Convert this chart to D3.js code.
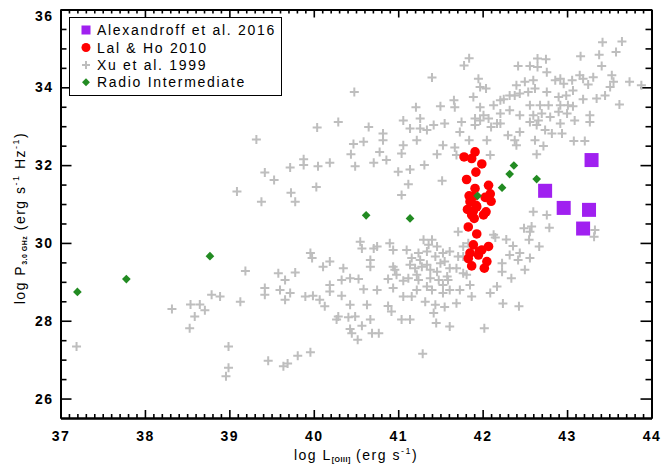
<!DOCTYPE html>
<html>
<head>
<meta charset="utf-8">
<script src="https://cdn.jsdelivr.net/npm/d3@7"></script>
<style>
body { margin: 0; background: #fff; }
svg { display: block; font-family: "Liberation Sans", Arial, sans-serif; }
.tick text { font-size: 14px; font-weight: bold; letter-spacing: 1.5px; fill: #000; }
.legend-text { font-size: 14px; letter-spacing: 1.7px; }
.title { font-size: 14px; letter-spacing: 1.5px; }
</style>
</head>
<body>
<svg id="chart" width="661" height="466"></svg>
<script>
// log L[OIII], log P3.0GHz
var alexandroff = [[43.29,32.13],[42.74,31.34],[42.96,30.90],[43.26,30.85],[43.19,30.37]]

var lalHo = [[41.78,32.21],[41.91,32.34],[41.87,32.17],[41.99,32.03],[41.92,31.82],[41.81,31.63],
    [42.07,31.48],[41.91,31.40],[41.84,31.21],[42.09,31.26],[42.03,31.17],[42.10,31.07],[41.85,31.06],
    [41.92,30.97],[41.82,30.86],[41.89,30.82],[42.04,30.80],[42.01,30.72],[41.90,30.63],[41.83,30.41],
    [41.93,30.23],[41.89,29.95],[42.07,29.91],[41.99,29.82],[41.85,29.74],[41.95,29.69],[41.83,29.60],
    [42.05,29.52],[41.87,29.41],[42.02,29.35],[41.89,31.19],[41.87,30.72],[41.93,30.93],[41.96,29.78]]

var radioInt = [[37.20,28.74],[37.78,29.07],[38.77,29.66],[40.62,30.71],[41.14,30.63],[41.94,31.21],
    [42.23,31.42],[42.32,31.77],[42.37,31.99],[42.64,31.64]]

var xu1999 = [
    [37.19,27.34],[38.32,28.30],[38.54,28.42],[38.65,28.42],[38.71,28.27],[38.59,28.11],[38.53,27.81],
    [38.79,28.67],[38.89,28.62],[38.99,27.34],[38.99,26.79],[38.96,26.57],[39.46,26.97],[39.64,26.83],
    [39.69,26.90],[39.81,27.10],[39.96,27.19],
    [40.43,28.41],[40.63,28.41],[40.88,28.38],[40.92,28.24],[40.29,28.11],[40.27,28.03],[40.41,28.09],
    [40.49,28.11],[40.57,27.87],[40.67,28.03],[40.43,27.79],[40.45,27.68],[40.52,27.51],[40.69,27.68],
    [40.77,27.68],[41.04,28.03],[41.14,28.03],[41.32,28.49],[41.44,28.41],[41.55,28.35],[41.69,28.45],
    [41.42,28.20],[41.45,27.94],[41.61,27.85],[42.02,27.81],[42.24,28.44],[42.43,28.37],[41.29,27.15],
    [39.09,31.32],[39.38,31.06],[39.73,31.29],[39.78,31.06],[41.04,31.23],
    [40.55,30.03],[40.57,29.86],[40.71,29.86],[40.75,29.91],[40.90,29.99],[40.94,29.82],[41.10,29.82],
    [41.30,30.08],[41.40,30.08],[41.36,29.95],[41.46,29.91],[41.34,29.78],[41.24,29.74],[41.53,29.74],
    [41.61,29.78],[41.71,30.29],[41.77,29.91],[41.83,29.99],[39.96,29.74],[39.98,29.61],[40.11,29.39],
    [40.19,29.52],[40.35,29.35],[40.67,29.56],[40.67,29.39],[40.94,29.39],[40.96,29.31],[41.14,29.44],
    [41.20,29.35],[41.28,29.39],[41.34,29.44],[41.38,29.31],[41.50,29.48],[41.55,29.52],[41.61,29.35],
    [41.69,29.35],[41.46,29.26],[41.58,29.14],[41.77,29.22],[39.19,29.28],[39.58,29.22],[39.66,29.05],
    [39.78,29.24],[40.33,29.05],[40.43,29.09],[40.53,29.07],[40.19,28.92],[40.88,29.07],[41.06,29.03],
    [41.12,29.09],[41.22,29.18],[41.34,28.88],[41.40,28.79],[41.53,28.92],[41.61,28.79],[41.73,28.79],
    [41.85,28.92],[41.87,28.62],[40.94,28.84],[40.75,28.79],[40.59,28.81],[40.33,28.64],[40.19,28.75],
    [40.07,28.54],[40.13,28.37],[39.90,28.62],[39.99,28.64],[39.72,28.71],[39.66,28.54],[39.60,28.79],
    [39.42,28.84],[39.42,28.67],[39.13,28.49],[40.98,29.18],[41.06,28.62],[41.16,28.62],[41.22,28.79],
    [41.53,28.71],[41.81,29.18],[41.38,29.09],[41.48,29.05],[41.59,29.05],[41.24,29.05],[41.71,29.65],
    [41.77,29.65],[41.44,29.65],[41.16,29.61],[41.26,29.56],
    [39.42,31.81],[39.32,32.66],[40.04,32.97],[39.88,32.15],[39.88,32.00],[40.05,31.97],[40.19,32.06],
    [39.72,31.94],[39.53,31.62],[40.03,31.44],[41.26,32.94],
    [40.47,32.54],[40.59,32.60],[40.44,32.28],[40.78,32.34],[40.71,32.06],[40.86,32.13],[40.49,31.97],
    [41.04,32.30],[41.06,32.51],[41.22,32.64],[41.00,31.83],[41.14,31.89],[41.31,32.00],[41.46,32.28],
    [41.53,32.51],[41.67,32.45],[41.69,32.26],[41.12,31.51],[41.52,31.60],[42.09,32.26],
    [42.64,32.28],[42.72,32.49],[42.40,32.51],
    [42.60,30.80],[42.76,30.72],[42.49,30.38],[42.58,30.42],[42.56,30.29],[42.79,30.39],[42.13,30.21],
    [42.15,30.14],[42.28,30.09],[42.36,29.92],[42.44,29.74],[42.55,30.08],[42.67,29.91],[42.56,29.61],
    [42.32,29.69],[42.42,29.56],[42.23,29.48],[42.50,29.31],[42.34,29.09],[42.23,29.26],[43.33,30.33],
    [43.32,30.16],[42.17,28.88],[42.09,28.71],
    [43.42,35.16],[43.65,35.18],[43.58,34.91],[43.38,34.84],[43.16,34.80],[43.41,34.55],[41.84,34.75],
    [41.78,34.56],[41.40,34.25],[42.42,34.55],[42.56,34.55],[42.65,34.74],[42.75,34.72],[42.65,34.52],
    [42.76,34.39],[41.95,34.22],[41.97,34.01],[42.04,33.97],[41.89,33.75],[41.66,33.67],[41.67,33.49],
    [41.50,33.51],[41.97,33.49],[42.01,33.28],[41.97,33.15],[42.07,33.20],[42.13,33.54],[42.21,33.67],
    [42.25,33.69],[42.32,33.79],[42.38,33.79],[42.44,33.84],[42.40,34.05],[42.50,34.14],[42.60,34.18],
    [42.62,33.97],[42.54,33.88],[42.76,33.88],[42.86,34.18],[42.92,34.22],[42.96,34.09],[43.06,34.18],
    [43.15,34.31],[43.19,34.22],[43.31,34.26],[43.25,34.07],[43.53,34.31],[43.55,34.14],[43.51,34.01],
    [43.74,34.14],[43.88,34.05],[43.45,33.79],[43.35,33.71],[43.62,33.56],[43.19,33.69],[43.07,33.92],
    [42.99,33.79],[42.90,33.75],[42.78,33.54],[42.68,33.54],[42.56,33.54],[42.70,33.33],[42.60,33.28],
    [42.66,33.15],[42.80,33.24],[42.90,33.37],[42.92,33.54],[43.01,33.54],[43.07,33.51],[43.00,33.33],
    [43.09,33.15],[43.27,33.28],[43.27,33.11],[42.92,33.07],[42.94,32.81],[42.82,32.81],[42.74,32.90],
    [42.64,33.03],[42.56,33.11],[42.44,33.28],[42.44,32.85],[42.32,33.41],[42.21,33.33],[42.21,33.07],
    [42.10,32.98],[42.05,32.64],[42.30,32.77],[42.38,32.64],[42.62,32.64],[43.08,32.62],[43.21,32.62],
    [41.75,33.11],[41.73,32.85],[41.84,32.64],[41.42,33.03],[41.55,33.07],[41.91,33.03],[41.91,33.20],
    [42.17,33.07],
    [40.29,33.11],[40.48,33.88],[40.65,32.98],[40.82,32.81],[40.82,32.64],[41.06,33.15],[41.14,32.94],
    [41.21,33.49],[41.26,33.20],[41.34,32.90]]

var xMajor = [37, 38, 39, 40, 41, 42, 43, 44]
var yMajor = [26, 28, 30, 32, 34, 36]
var legendNames = ['Alexandroff et al. 2016', 'Lal & Ho 2010', 'Xu et al. 1999', 'Radio Intermediate']

var xMinor = d3.range(370, 441).map(function(d) { return d / 10 }).filter(function(d) { return xMajor.indexOf(d) < 0 })
var yMinor = d3.range(26, 36.01, 0.5).filter(function(d) { return yMajor.indexOf(d) < 0 })

var svg = d3.select('#chart')
var x = d3.scaleLinear().domain([37, 44]).range([60.5, 651.5])
var y = d3.scaleLinear().domain([25.5, 36]).range([418, 9.5])

var colors = {'alex': '#a020f0', 'lal': '#ff0000', 'xu': '#bebebe', 'radio': '#228b22'}
var crossPath = 'M-4.5,0H4.5M0,-4.5V4.5'
var diamond = d3.symbol().type(d3.symbolDiamond2).size(48)

// axes, ticks pointing inwards on all four sides
function drawAxis(axis, tx, ty, labels) {
    let g = svg.append('g')
        .attr('transform', 'translate(' + tx + ',' + ty + ')')
        .call(axis)
    g.select('.domain').attr('stroke', '#000').attr('stroke-width', 2)
    g.selectAll('.tick line').attr('stroke', '#000').attr('stroke-width', 1.6)
    if (!labels) g.selectAll('.tick text').remove()
    return g
}
function noLabel() { return '' }

drawAxis(d3.axisBottom(x).tickValues(xMinor).tickSize(-4).tickSizeOuter(0).tickFormat(noLabel), 0, 418, false)
drawAxis(d3.axisTop(x).tickValues(xMinor).tickSize(-4).tickSizeOuter(0).tickFormat(noLabel), 0, 9.5, false)
drawAxis(d3.axisLeft(y).tickValues(yMinor).tickSize(-6).tickSizeOuter(0).tickFormat(noLabel), 60.5, 0, false)
drawAxis(d3.axisRight(y).tickValues(yMinor).tickSize(-6).tickSizeOuter(0).tickFormat(noLabel), 651.5, 0, false)
drawAxis(d3.axisTop(x).tickValues(xMajor).tickSize(-8).tickSizeOuter(0), 0, 9.5, false)
drawAxis(d3.axisRight(y).tickValues(yMajor).tickSize(-11).tickSizeOuter(0), 651.5, 0, false)
drawAxis(d3.axisBottom(x).tickValues(xMajor).tickSize(-8).tickSizeOuter(0).tickPadding(13).tickFormat(d3.format('d')), 0, 418, true)
var yAxisG = drawAxis(d3.axisLeft(y).tickValues(yMajor).tickSize(-11).tickSizeOuter(0).tickPadding(7).tickFormat(d3.format('d')), 60.5, 0, true)
yAxisG.selectAll('.tick text').filter(function(d) { return d === 36 }).attr('dy', '0.75em')

// Xu et al. 1999 crosses
svg.append('g').selectAll('path')
    .data(xu1999)
    .enter()
    .append('path')
    .attr('transform', function(d) { return 'translate(' + x(d[0]) + ',' + y(d[1]) + ')' })
    .attr('d', crossPath)
    .attr('stroke', colors['xu'])
    .attr('stroke-width', 2)
    .attr('fill', 'none')

// Lal & Ho 2010
svg.append('g').selectAll('circle')
    .data(lalHo)
    .enter()
    .append('circle')
    .attr('cx', function(d) { return x(d[0]) })
    .attr('cy', function(d) { return y(d[1]) })
    .attr('r', 4.8)
    .attr('fill', colors['lal'])

// radio intermediate
svg.append('g').selectAll('path')
    .data(radioInt)
    .enter()
    .append('path')
    .attr('transform', function(d) { return 'translate(' + x(d[0]) + ',' + y(d[1]) + ')' })
    .attr('d', diamond)
    .attr('fill', colors['radio'])

// Alexandroff et al. 2016
svg.append('g').selectAll('rect')
    .data(alexandroff)
    .enter()
    .append('rect')
    .attr('x', function(d) { return x(d[0]) - 7 })
    .attr('y', function(d) { return y(d[1]) - 7 })
    .attr('width', 14)
    .attr('height', 14)
    .attr('fill', colors['alex'])

// legend
var legend = svg.append('g')
legend.append('rect')
    .attr('x', 69.5).attr('y', 17.5)
    .attr('width', 212).attr('height', 78)
    .attr('fill', '#fff').attr('stroke', '#000').attr('stroke-width', 1)
var rowY = [30, 47.5, 65, 82.3]
legend.append('rect').attr('x', 81.5).attr('y', rowY[0] - 4.5).attr('width', 9).attr('height', 9).attr('fill', colors['alex'])
legend.append('circle').attr('cx', 86).attr('cy', rowY[1]).attr('r', 4.5).attr('fill', colors['lal'])
legend.append('path').attr('transform', 'translate(86,' + rowY[2] + ')').attr('d', 'M-4,0H4M0,-4V4')
    .attr('stroke', colors['xu']).attr('stroke-width', 2)
legend.append('path').attr('transform', 'translate(86,' + rowY[3] + ')').attr('d', d3.symbol().type(d3.symbolDiamond2).size(40)).attr('fill', colors['radio'])
legend.selectAll('.legend-text')
    .data(legendNames)
    .enter()
    .append('text')
    .attr('class', 'legend-text')
    .attr('x', 97)
    .attr('y', function(d, i) { return rowY[i] + 5 })
    .text(function(d) { return d })

// axis titles
var xt = svg.append('text').attr('class', 'title').attr('x', 356).attr('y', 460).attr('text-anchor', 'middle')
xt.append('tspan').text('log L')
xt.append('tspan').attr('dy', 2).attr('font-size', 7).attr('font-weight', 'bold').attr('letter-spacing', 0.5).text('[OIII]')
xt.append('tspan').attr('dy', -2).text(' (erg s')
xt.append('tspan').attr('dy', -6).attr('font-size', 9).text('-1')
xt.append('tspan').attr('dy', 6).text(')')

var yt = svg.append('text').attr('class', 'title').attr('text-anchor', 'middle')
    .attr('transform', 'translate(25,218) rotate(-90)')
yt.append('tspan').text('log P')
yt.append('tspan').attr('dy', 2).attr('font-size', 7).attr('font-weight', 'bold').attr('letter-spacing', 0.5).text('3.0 GHz')
yt.append('tspan').attr('dy', -2).text(' (erg s')
yt.append('tspan').attr('dy', -6).attr('font-size', 9).text('-1')
yt.append('tspan').attr('dy', 6).text(' Hz')
yt.append('tspan').attr('dy', -6).attr('font-size', 9).text('-1')
yt.append('tspan').attr('dy', 6).text(')')
</script>
</body>
</html>
